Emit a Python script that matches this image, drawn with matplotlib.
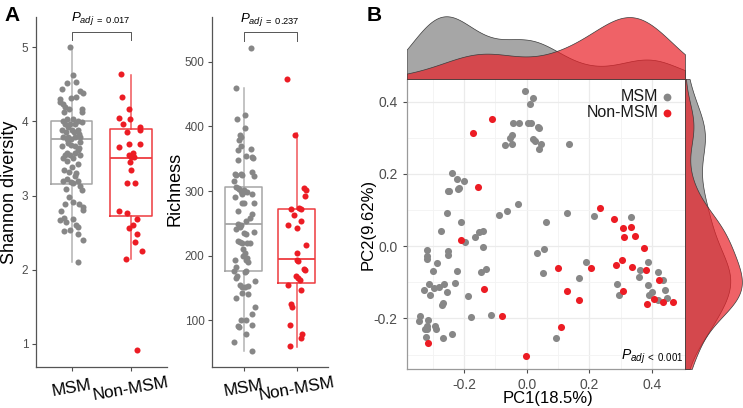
import numpy as np
import matplotlib
matplotlib.use("Agg")
import matplotlib.pyplot as plt

plt.rcParams['font.family'] = ['Liberation Sans', 'DejaVu Sans']
plt.rcParams['mathtext.fontset'] = 'custom'
plt.rcParams['mathtext.rm'] = 'Liberation Sans'
plt.rcParams['mathtext.it'] = 'Liberation Sans:italic'

GRAY = "#878787"
RED = "#EC1C24"
TXT = "#4D4D4D"

groups = ["MSM", "Non-MSM"]

# ---- Panel A: Shannon diversity ----
shannon_msm = [5.00, 4.62, 4.51, 4.53, 4.44, 4.41, 4.38, 4.30, 4.26, 4.32, 4.33, 4.24, 4.20, 4.13, 4.16,
               4.17, 4.12, 4.00, 4.03, 4.03, 4.00, 3.99, 3.96, 3.96, 3.96, 3.89, 3.89, 3.89, 3.85, 3.85,
               3.79, 3.79, 3.79, 3.79, 3.76, 3.76, 3.72, 3.67, 3.67, 3.68, 3.58, 3.61, 3.54, 3.54, 3.54,
               3.51, 3.51, 3.42, 3.32, 3.30, 3.19, 3.18, 3.17, 3.19, 3.13, 3.08, 3.09, 2.98, 2.91, 2.88,
               2.88, 2.85, 2.81, 2.79, 2.70, 2.67, 2.64, 2.68, 2.61, 2.58, 2.52, 2.53, 2.48, 2.40, 2.11,
               3.71, 3.64, 3.57, 3.47, 3.39, 3.35, 3.26, 3.22, 3.83, 3.93]
shannon_msm_jit = [-0.03, 0.02, -0.07, 0.07, -0.16, 0.14, 0.19, -0.19, -0.20, -0.01, 0.08, -0.15, -0.11, -0.12, -0.04,
                   0.17, 0.17, -0.14, -0.07, 0.03, 0.11, 0.17, -0.11, -0.03, 0.06, -0.17, 0.00, 0.10, -0.10, 0.04,
                   -0.14, -0.06, 0.06, 0.14, -0.08, -0.01, 0.14, -0.16, 0.06, -0.01, -0.07, 0.10, -0.11, -0.03, 0.14,
                   0.03, -0.15, 0.11, -0.04, 0.08, -0.15, -0.01, 0.03, 0.10, 0.15, 0.18, -0.10, -0.04, 0.03, -0.11,
                   0.13, 0.19, 0.19, -0.18, -0.12, -0.19, -0.09, 0.02, 0.07, 0.10, -0.13, -0.03, 0.11, 0.20, 0.10,
                   -0.06, 0.12, 0.06, -0.08, 0.01, -0.12, 0.06, -0.07, 0.12, -0.06]
shannon_non = [4.64, 4.33, 4.16, 4.05, 4.03, 3.97, 3.92, 3.88, 3.85, 3.66, 3.69, 3.70, 3.54, 3.58, 3.52,
               3.52, 3.45, 3.34, 3.17, 3.17, 2.79, 2.77, 2.69, 2.61, 2.56, 2.48, 2.38, 2.25, 2.14, 0.92]
shannon_non_jit = [-0.16, -0.15, -0.04, -0.20, -0.02, -0.14, 0.16, 0.16, -0.07, -0.20, -0.03, 0.15, -0.03, 0.04, 0.00,
                   0.05, -0.01, 0.00, -0.07, 0.07, -0.20, -0.06, 0.10, 0.03, -0.03, 0.10, 0.07, 0.18, -0.08, 0.10]
# box stats: whislo, q1, median, q3, whishi
shannon_box = [[2.11, 3.16, 3.76, 4.01, 5.00], [2.14, 2.73, 3.51, 3.90, 4.63]]

# ---- Panel A: Richness ----
rich_msm = [522, 460, 412, 417, 398, 386, 383, 379, 370, 363, 365, 348, 354, 353, 351, 327, 325, 327, 325, 329,
            323, 316, 306, 303, 300, 297, 302, 295, 296, 291, 281, 281, 281, 269, 264, 259, 254, 249, 247, 245,
            241, 235, 233, 236, 222, 221, 220, 219, 219, 211, 204, 199, 196, 193, 193, 190, 183, 177, 175, 177,
            168, 166, 160, 154, 152, 152, 153, 142, 140, 134, 120, 109, 100, 100, 91, 90, 92, 79, 66, 52,
            299, 304, 298]
rich_msm_jit = [0.13, -0.16, -0.13, 0.02, 0.02, -0.08, -0.06, -0.09, -0.06, -0.11, 0.13, -0.11, 0.03, 0.16, 0.17,
                -0.17, -0.15, -0.06, -0.03, 0.15, 0.19, -0.18, -0.16, -0.09, -0.06, -0.03, 0.00, -0.04, 0.16, -0.17,
                -0.03, 0.01, 0.20, -0.11, 0.15, 0.12, 0.04, -0.11, -0.06, -0.08, -0.15, 0.01, 0.03, 0.19, -0.11,
                -0.08, -0.04, 0.06, 0.11, -0.01, 0.02, -0.02, 0.06, -0.17, 0.03, 0.08, -0.15, 0.04, 0.02, -0.19,
                -0.13, -0.16, 0.21, -0.08, -0.03, 0.02, 0.07, -0.04, 0.08, -0.16, 0.21, 0.15, -0.06, 0.04, -0.12,
                -0.09, 0.15, 0.04, -0.19, 0.15, -0.01, -0.12, 0.05]
rich_non = [474, 387, 305, 301, 293, 272, 273, 272, 263, 253, 247, 243, 217, 204, 193, 191, 179, 178, 168, 166,
            163, 154, 147, 125, 121, 93, 78, 72, 60]
rich_non_jit = [-0.19, -0.03, 0.14, 0.18, 0.16, -0.11, 0.04, 0.08, -0.05, 0.08, -0.16, 0.01, 0.18, 0.01, 0.01,
                0.02, 0.14, 0.16, -0.02, 0.03, 0.07, -0.16, 0.08, -0.11, -0.08, -0.13, 0.11, 0.08, -0.13]
rich_box = [[52, 177, 249, 306, 460], [59, 158, 195, 272, 389]]

# ---- Panel B: PCoA ----
msm_pc1 = [-0.005, 0.019, 0.012, -0.045, -0.024, 0.003, 0.013, 0.035, 0.040, -0.048, -0.053, -0.069, -0.047,
           0.020, 0.027, 0.044, 0.039, 0.135, -0.238, -0.222, -0.199, -0.252, -0.247, -0.220, -0.216,
           -0.028, -0.255, -0.088, -0.062, -0.209, -0.274, 0.130, 0.063, 0.215, 0.334, -0.196, -0.165, -0.151,
           -0.141, -0.139, -0.318, -0.318, -0.319, -0.252, -0.252, -0.287, -0.300, -0.223, -0.327, -0.312,
           -0.309, -0.296, -0.281, -0.263, -0.255, -0.230, -0.266, -0.269, -0.188, -0.177, -0.147, -0.129,
           -0.114, -0.340, -0.344, -0.316, -0.317, -0.324, -0.293, -0.290, -0.319, -0.323, -0.266, -0.239,
           0.034, 0.055, 0.051, 0.093, 0.189, 0.167, 0.287, 0.295, 0.387, 0.360, 0.357, 0.387, 0.418, 0.434,
           0.441, 0.399, 0.391, 0.418, 0.446]
msm_pc2 = [0.429, 0.411, 0.395, 0.340, 0.340, 0.340, 0.342, 0.331, 0.326, 0.308, 0.301, 0.280, 0.283,
           0.297, 0.290, 0.282, 0.269, 0.283, 0.202, 0.186, 0.180, 0.152, 0.153, 0.158, 0.162,
           0.118, 0.091, 0.086, 0.098, 0.067, 0.043, 0.093, 0.067, 0.083, 0.082, 0.013, 0.026, 0.040,
           0.043, -0.001, -0.010, -0.028, -0.035, -0.012, -0.023, -0.047, -0.069, -0.068, -0.122, -0.104,
           -0.136, -0.115, -0.113, -0.106, -0.126, -0.102, -0.156, -0.162, -0.139, -0.195, -0.071, -0.062,
           -0.191, -0.192, -0.207, -0.203, -0.221, -0.228, -0.221, -0.230, -0.228, -0.252, -0.253, -0.244,
           -0.019, -0.008, -0.074, -0.253, -0.043, -0.087, -0.104, -0.135, -0.045, -0.065, -0.085, -0.107,
           -0.072, -0.094, -0.120, -0.127, -0.136, -0.148, -0.144]
non_pc1 = [-0.110, -0.171, -0.156, 0.233, 0.279, 0.307, 0.332, 0.311, 0.347, 0.373, 0.303, 0.286, 0.336,
           0.381, 0.421, 0.307, 0.406, 0.436, 0.468, 0.385, -0.211, -0.136, -0.079, 0.099, 0.206, 0.130,
           0.166, 0.109, -0.001, -0.316]
non_pc2 = [0.353, 0.314, 0.165, 0.106, 0.076, 0.050, 0.052, 0.025, 0.028, -0.006, -0.038, -0.051, -0.058,
           -0.066, -0.094, -0.124, -0.146, -0.154, -0.154, -0.160, 0.018, -0.118, -0.193, -0.061, -0.060,
           -0.123, -0.148, -0.224, -0.303, -0.267]

W, H = 743, 408
fig = plt.figure(figsize=(W / 100, H / 100), dpi=100)


def rect(x0, y0, x1, y1):
    return [x0 / W, 1 - y1 / H, (x1 - x0) / W, (y1 - y0) / H]


def box_panel(ax, box, vals, jits, ylim, yticks, ptxt, br_y, br_tick):
    cols = [GRAY, RED]
    ecol = ["#A6A6A6", "#EE3A3F"]
    for i, b in enumerate(box):
        st = dict(whislo=b[0], q1=b[1], med=b[2], q3=b[3], whishi=b[4], fliers=[])
        ax.bxp([st], positions=[i + 1], widths=0.7, showcaps=False, showfliers=False,
               boxprops=dict(color=ecol[i], lw=1.1),
               medianprops=dict(color=ecol[i], lw=1.3),
               whiskerprops=dict(color=ecol[i], lw=1.1, alpha=0.85),
               manage_ticks=False)
    for i in range(2):
        ax.scatter(np.array(jits[i]) + i + 1, vals[i], s=19, color=cols[i], zorder=3, linewidths=0)
    ax.set_xlim(0.4, 2.6)
    ax.set_ylim(*ylim)
    ax.set_yticks(yticks)
    ax.set_xticks([1, 2])
    ax.set_xticklabels(groups, rotation=10, ha='center', va='center', rotation_mode='anchor',
                       fontsize=12.3, color='black')
    ax.tick_params(axis='y', labelsize=8.5, colors=TXT, length=3, width=0.8, pad=2.5)
    ax.tick_params(axis='x', length=3, width=0.8, colors="#4D4D4D", labelcolor='black', pad=12.5)
    for s in ['top', 'right']:
        ax.spines[s].set_visible(False)
    for s in ['left', 'bottom']:
        ax.spines[s].set_color('#555555')
        ax.spines[s].set_linewidth(0.9)
    ax.plot([1, 1, 2, 2], [br_tick, br_y, br_y, br_tick], color='#555555', lw=0.7, clip_on=False)
    ax.text(1.5, br_y + (ylim[1] - ylim[0]) * 0.012, ptxt, ha='center', va='bottom', fontsize=9.5)


ax1 = fig.add_axes(rect(36, 16.7, 166.5, 367))
box_panel(ax1, shannon_box, [shannon_msm, shannon_non], [shannon_msm_jit, shannon_non_jit],
          (0.69, 5.41), [1, 2, 3, 4, 5],
          r"$P_{adj\ \mathregular{=\ 0.017}}$", 5.21, 5.09)

ax2 = fig.add_axes(rect(212.3, 16.7, 328.3, 367))
box_panel(ax2, rich_box, [rich_msm, rich_non], [rich_msm_jit, rich_non_jit],
          (27.7, 569.7), [100, 200, 300, 400, 500],
          r"$P_{adj\ \mathregular{=\ 0.237}}$", 545.5, 531.6)

fig.text(10 / W, 1 - 192 / H, "Shannon diversity", rotation=90, ha='center', va='center', fontsize=13)
fig.text(175 / W, 1 - 189 / H, "Richness", rotation=90, ha='center', va='center', fontsize=13)

# ---- Panel B ----
xl = (-0.383, 0.505)
yl = (-0.340, 0.463)
axm = fig.add_axes(rect(406.7, 79, 685, 369))
axm.set_xlim(*xl)
axm.set_ylim(*yl)
axm.set_xticks([-0.2, 0.0, 0.2, 0.4])
axm.set_yticks([-0.2, 0.0, 0.2, 0.4])
axm.set_xticks([-0.3, -0.1, 0.1, 0.3], minor=True)
axm.set_yticks([-0.3, -0.1, 0.1, 0.3], minor=True)
axm.set_xticklabels(["-0.2", "0.0", "0.2", "0.4"])
axm.set_yticklabels(["-0.2", "0.0", "0.2", "0.4"])
axm.grid(which='major', color='#EBEBEB', lw=0.9)
axm.grid(which='minor', color='#F3F3F3', lw=0.6)
axm.set_axisbelow(True)
axm.tick_params(which='major', labelsize=10, colors=TXT, length=3, width=0.8)
axm.tick_params(which='minor', length=0)
for s in ['top', 'right']:
    axm.spines[s].set_visible(False)
for s in ['left', 'bottom']:
    axm.spines[s].set_color('#9A9A9A')
    axm.spines[s].set_linewidth(0.9)
axm.scatter(msm_pc1, msm_pc2, s=26, color=GRAY, linewidths=0, zorder=3, label="MSM")
axm.scatter(non_pc1, non_pc2, s=26, color=RED, linewidths=0, zorder=3, label="Non-MSM")
leg = axm.legend(loc='upper right', bbox_to_anchor=(1.0, 1.0), markerfirst=False, frameon=False,
                 fontsize=11.5, handletextpad=0.0, labelspacing=0.05, handlelength=1.0,
                 borderaxespad=0.25, markerscale=1.1)
for t in leg.get_texts():
    t.set_color('#1A1A1A')
axm.text(0.995, 0.012, r"$P_{adj\ \mathregular{<\ 0.001}}$", transform=axm.transAxes,
         ha='right', va='bottom', fontsize=10)
fig.text(548 / W, 1 - 398 / H, "PC1(18.5%)", ha='center', va='center', fontsize=12)
fig.text(368 / W, 1 - 224 / H, "PC2(9.62%)", rotation=90, ha='center', va='center', fontsize=12)


def kde(data, grid):
    d = np.asarray(data, float)
    n = len(d)
    sd = np.std(d, ddof=1)
    q75, q25 = np.percentile(d, [75, 25])
    h = 0.9 * min(sd, (q75 - q25) / 1.34) * n ** -0.2
    return np.exp(-0.5 * ((grid[:, None] - d[None, :]) / h) ** 2).sum(1) / (n * h * np.sqrt(2 * np.pi))


FG = (0.5, 0.5, 0.5, 0.7)
FR = (0.914, 0.125, 0.153, 0.7)

axt = fig.add_axes(rect(406.7, 15, 685, 79))
gx = np.linspace(xl[0], xl[1], 400)
d1 = kde(msm_pc1, gx)
d2 = kde(non_pc1, gx)
axt.fill_between(gx, 0, d1, facecolor=FG, edgecolor='#3A3A3A', lw=0.5)
axt.fill_between(gx, 0, d2, facecolor=FR, edgecolor='#3A3A3A', lw=0.5)
axt.set_xlim(*xl)
axt.set_ylim(0, max(d1.max(), d2.max()) * 1.02)
axt.axis('off')

axr = fig.add_axes(rect(685, 79, 743, 369))
gy = np.linspace(yl[0], yl[1], 400)
e1 = kde(msm_pc2, gy)
e2 = kde(non_pc2, gy)
axr.fill_betweenx(gy, 0, e1, facecolor=FG, edgecolor='#3A3A3A', lw=0.5)
axr.fill_betweenx(gy, 0, e2, facecolor=FR, edgecolor='#3A3A3A', lw=0.5)
axr.set_ylim(*yl)
axr.set_xlim(0, max(e1.max(), e2.max()) * 1.02)
axr.axis('off')

fig.text(4 / W, 1 - 6 / H, "A", fontsize=15, fontweight='bold', va='top', ha='left')
fig.text(367 / W, 1 - 6 / H, "B", fontsize=15, fontweight='bold', va='top', ha='left')

fig.savefig("out.png", dpi=100)
